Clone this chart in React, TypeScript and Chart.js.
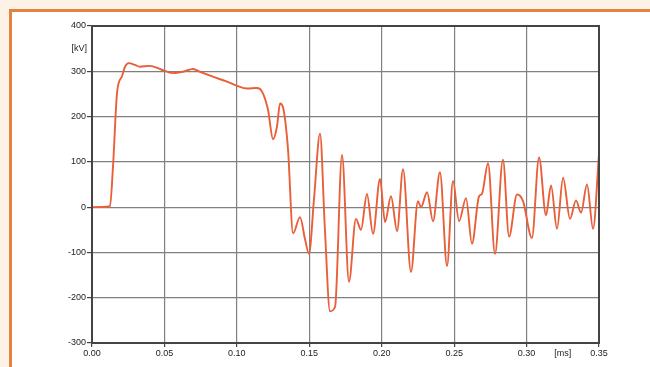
import React, { useEffect, useRef } from "react";
import { Chart, registerables } from "chart.js";

Chart.register(...registerables);

const timeMs = [
  0.0, 0.0124, 0.0145, 0.0173, 0.0207, 0.0228, 0.0255, 0.0297, 0.0331, 0.04,
  0.0469, 0.0559, 0.0628, 0.0697, 0.0746, 0.0835, 0.0932, 0.1001, 0.107, 0.1139,
  0.1174, 0.1215, 0.125, 0.1277, 0.1298, 0.1319, 0.1353, 0.1388, 0.1436, 0.147,
  0.1498, 0.1533, 0.1574, 0.1608, 0.1643, 0.1678, 0.1726, 0.1774, 0.1822, 0.1857,
  0.1898, 0.194, 0.1988, 0.2023, 0.2064, 0.2106, 0.2147, 0.2202, 0.225, 0.2271,
  0.2313, 0.2354, 0.2402, 0.2451, 0.2492, 0.2534, 0.2582, 0.2623, 0.2672, 0.2692,
  0.2734, 0.2782, 0.2837, 0.2879, 0.2934, 0.2975, 0.3037, 0.3086, 0.3134, 0.3169,
  0.321, 0.3252, 0.33, 0.3341, 0.3376, 0.3417, 0.3459, 0.35,
];

const voltageKV = [
  0, 2, 90, 253, 289, 310, 318, 314, 310, 312,
  305, 296, 299, 305, 299, 288, 277, 268, 262, 263,
  255, 215, 150, 178, 229, 220, 128, -58, -22, -70,
  -103, 20, 162, -50, -230, -220, 115, -165, -26, -50,
  29, -59, 62, -33, 24, -53, 84, -143, 13, 0,
  33, -31, 77, -130, 58, -31, 20, -81, 24, 29,
  97, -103, 105, -65, 28, 14, -68, 110, -18, 48,
  -48, 65, -26, 15, -12, 50, -48, 118,
];

const yTicks = [400, 300, 200, 100, 0, -100, -200, -300];
const xTicks = [0, 0.05, 0.1, 0.15, 0.2, 0.25, 0.3, 0.35];
const yUnit = "[kV]";
const xUnit = "[ms]";

const FONT = "'Liberation Sans', Arial, sans-serif";

export default function App() {
  const ref = useRef<HTMLCanvasElement | null>(null);

  useEffect(() => {
    if (!ref.current) return;
    const framePlugin = {
      id: "frame",
      afterDraw(chart: any) {
        const { ctx, chartArea, scales } = chart;
        ctx.save();
        ctx.strokeStyle = "#444";
        ctx.lineWidth = 2;
        ctx.strokeRect(
          chartArea.left,
          chartArea.top,
          chartArea.right - chartArea.left,
          chartArea.bottom - chartArea.top
        );
        ctx.fillStyle = "#222";
        ctx.font = `9px ${FONT}`;
        ctx.textAlign = "right";
        ctx.textBaseline = "middle";
        ctx.fillText(yUnit, chartArea.left - 5, scales.y.getPixelForValue(350));
        ctx.textAlign = "center";
        ctx.textBaseline = "top";
        ctx.fillText(xUnit, scales.x.getPixelForValue(0.325), chartArea.bottom + 6);
        ctx.restore();
      },
    };

    const chart = new Chart(ref.current, {
      type: "line",
      data: {
        datasets: [
          {
            data: timeMs.map((t, i) => ({ x: t, y: voltageKV[i] })),
            borderColor: "#e85f38",
            borderWidth: 1.9,
            pointRadius: 0,
            cubicInterpolationMode: "monotone",
            fill: false,
          },
        ],
      },
      options: {
        animation: false,
        responsive: false,
        layout: { padding: { top: 26, right: 51, left: 0, bottom: 0 } },
        plugins: { legend: { display: false }, tooltip: { enabled: false } },
        scales: {
          x: {
            type: "linear",
            min: 0,
            max: 0.35,
            afterFit(scale: any) {
              scale.height = 24;
            },
            afterBuildTicks(scale: any) {
              scale.ticks = xTicks.map((v) => ({ value: v }));
            },
            ticks: {
              color: "#222",
              font: { family: FONT, size: 9 },
              padding: 1,
              maxRotation: 0,
              autoSkip: false,
              callback: (v: any) => Number(v).toFixed(2),
            },
            grid: {
              color: "#808080",
              lineWidth: 1.2,
              tickColor: "#444",
              tickLength: 4,
            },
            border: { color: "#444", width: 2 },
          },
          y: {
            type: "linear",
            min: -300,
            max: 400,
            afterFit(scale: any) {
              scale.width = 92;
            },
            afterBuildTicks(scale: any) {
              scale.ticks = yTicks.map((v) => ({ value: v }));
            },
            ticks: {
              color: "#222",
              font: { family: FONT, size: 9 },
              padding: 1,
              autoSkip: false,
            },
            grid: {
              color: "#808080",
              lineWidth: 1.2,
              tickColor: "#444",
              tickLength: 5,
            },
            border: { color: "#444", width: 2 },
          },
        },
      },
      plugins: [framePlugin],
    });
    return () => chart.destroy();
  }, []);

  return (
    <div
      style={{
        position: "fixed",
        left: 0,
        top: 0,
        width: 650,
        height: 367,
        background: "#fcf2e5",
        overflow: "hidden",
      }}
    >
      <div
        style={{
          position: "absolute",
          left: 9,
          top: 9,
          width: 641,
          height: 358,
          background: "#ffffff",
          borderTop: "3px solid #e5823f",
          borderLeft: "3px solid #e5823f",
          boxSizing: "border-box",
        }}
      />
      <canvas
        ref={ref}
        width={650}
        height={367}
        style={{ position: "absolute", left: 0, top: 0, width: 650, height: 367 }}
      />
    </div>
  );
}
